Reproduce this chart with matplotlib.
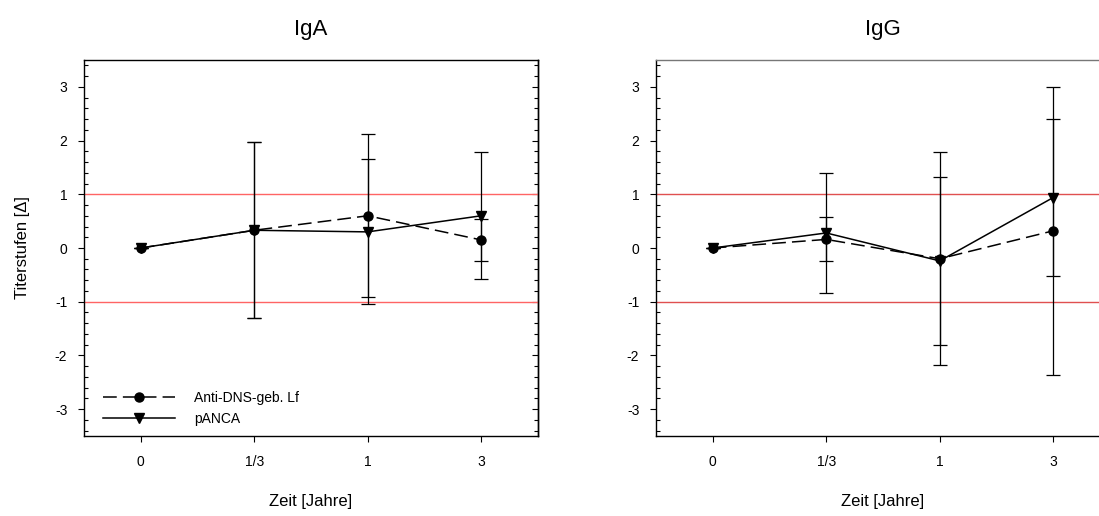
import matplotlib
matplotlib.use('Agg')
import matplotlib.pyplot as plt
from matplotlib.ticker import MultipleLocator
import numpy as np

plt.rcParams['font.family'] = ['Liberation Sans', 'DejaVu Sans']

# x-Positionen (kategorisch) und Beschriftung
zeit_labels = ['0', '1/3', '1', '3']
x = np.arange(len(zeit_labels))

## IgA
iga_dns = [0.0, 0.33, 0.60, 0.15]
iga_dns_err = [0.0, 1.64, 1.52, 0.39]
iga_panca = [0.0, 0.33, 0.30, 0.60]
iga_panca_err = [0.0, 1.64, 1.35, 1.18]

## IgG
igg_dns = [0.0, 0.16, -0.20, 0.32]
igg_dns_err = [0.0, 0.41, 1.98, 2.68]
igg_panca = [0.0, 0.28, -0.24, 0.94]
igg_panca_err = [0.0, 1.11, 1.57, 1.47]

W, H = 1099, 516
fig = plt.figure(figsize=(W / 100, H / 100), dpi=100)

ax1 = fig.add_axes([84 / W, 1 - 436 / H, 454 / W, 376 / H])
ax2 = fig.add_axes([656 / W, 1 - 436 / H, 454 / W, 376 / H])


def panel(ax, dns, dns_err, panca, panca_err, title, refcol):
    ax.axhline(1, color=refcol, lw=1, zorder=1)
    ax.axhline(-1, color=refcol, lw=1, zorder=1)
    ax.errorbar(x, dns, yerr=dns_err, fmt='none', ecolor='black', elinewidth=0.9,
                capsize=5, capthick=0.9, zorder=2)
    ax.errorbar(x, panca, yerr=panca_err, fmt='none', ecolor='black', elinewidth=0.9,
                capsize=5, capthick=0.9, zorder=2)
    ax.plot(x, dns, color='black', lw=1.1, dashes=(9, 4), marker='o', ms=6.5,
            label='Anti-DNS-geb. Lf', zorder=3)
    ax.plot(x, panca, color='black', lw=1.1, marker='v', ms=6.5,
            label='pANCA', zorder=3)

    ax.set_xlim(-0.5, 3.5)
    ax.set_ylim(-3.5, 3.5)
    ax.set_xticks(x)
    ax.set_xticklabels(zeit_labels, fontsize=10)
    ax.set_yticks(range(-3, 4))
    ax.set_yticklabels([str(v) for v in range(-3, 4)], fontsize=10)
    ax.yaxis.set_minor_locator(MultipleLocator(0.2))
    ax.tick_params(axis='y', which='major', direction='out', length=4, width=0.8, pad=8)
    ax.tick_params(axis='y', which='minor', direction='in', length=3, width=0.8)
    ax.tick_params(axis='x', which='major', direction='out', length=4, width=0.8, pad=10)
    for s in ax.spines.values():
        s.set_linewidth(1.0)
    ax.set_title(title, fontsize=16, pad=18)
    ax.set_xlabel('Zeit [Jahre]', fontsize=12, labelpad=18)


panel(ax1, iga_dns, iga_dns_err, iga_panca, iga_panca_err, 'IgA', '#ff6464')
panel(ax2, igg_dns, igg_dns_err, igg_panca, igg_panca_err, 'IgG', '#e05050')

ax1.set_ylabel('Titerstufen [Δ]', fontsize=12, labelpad=18)
ax2.spines['top'].set_color('#777777')

# rechte Achse links: Ticks nach innen, ohne Beschriftung
sec = ax1.secondary_yaxis('right')
sec.set_yticks(range(-3, 4))
sec.yaxis.set_minor_locator(MultipleLocator(0.2))
sec.tick_params(axis='y', which='major', direction='in', length=4, width=0.8, labelright=False)
sec.tick_params(axis='y', which='minor', direction='in', length=3, width=0.8)
sec.spines['right'].set_linewidth(1.0)

leg = ax1.legend(loc='lower left', frameon=False, fontsize=10, handlelength=5.2,
                 handletextpad=1.4, labelspacing=0.5, borderaxespad=0.3,
                 bbox_to_anchor=(0.02, 0.0))

fig.savefig('out.png', dpi=100)
